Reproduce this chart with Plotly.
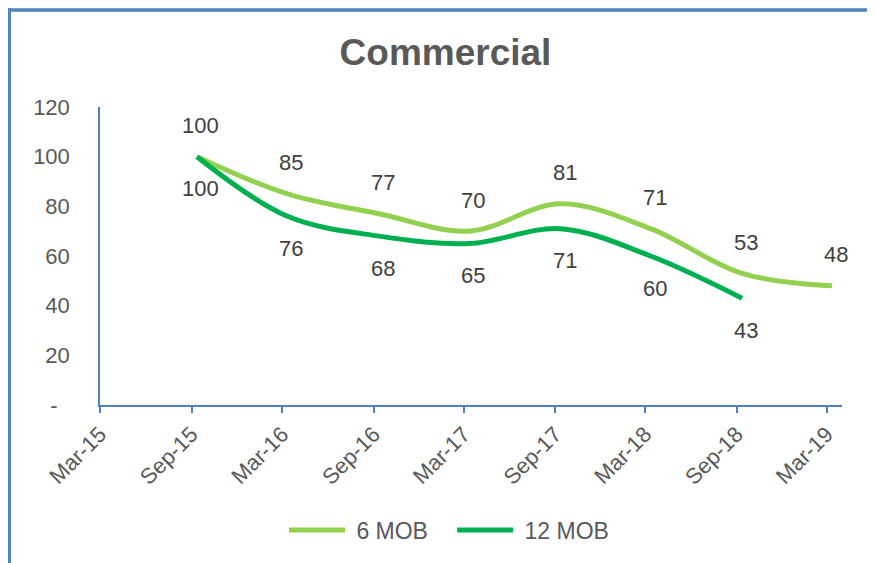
import plotly.graph_objects as go

dates_6 = ["2015-09-12", "2016-03-12", "2016-09-12", "2017-03-12", "2017-09-12", "2018-03-12", "2018-09-12", "2019-03-12"]
mob6 = [100, 85, 77, 70, 81, 71, 53, 48]
dates_12 = ["2015-09-12", "2016-03-12", "2016-09-12", "2017-03-12", "2017-09-12", "2018-03-12", "2018-09-12"]
mob12 = [100, 76, 68, 65, 71, 60, 43]
series_names = ["6 MOB", "12 MOB"]
tick_dates = ["2015-03-01", "2015-09-01", "2016-03-01", "2016-09-01", "2017-03-01", "2017-09-01", "2018-03-01", "2018-09-01", "2019-03-01"]
tick_labels = ["Mar-15", "Sep-15", "Mar-16", "Sep-16", "Mar-17", "Sep-17", "Mar-18", "Sep-18", "Mar-19"]
y_ticks = [0, 20, 40, 60, 80, 100, 120]
y_labels = ["-\u00a0\u00a0", "20", "40", "60", "80", "100", "120"]

C6 = "#92D050"
C12 = "#00B050"
BLUE = "#4F81BD"
FONT = "Liberation Sans, Arial, sans-serif"
NB = "\u00a0"

fig = go.Figure()
fig.add_trace(go.Scatter(x=dates_6, y=mob6, mode="lines", name=NB + series_names[0] + NB * 3,
                         line=dict(color=C6, width=5, shape="spline", smoothing=1.0)))
fig.add_trace(go.Scatter(x=dates_12, y=mob12, mode="lines", name=NB + series_names[1],
                         line=dict(color=C12, width=5, shape="spline", smoothing=1.0)))

annotations = []
for d, v in zip(dates_6, mob6):
    annotations.append(dict(x=d, y=v, text=str(v), showarrow=False, yshift=31, xshift=4,
                            font=dict(family=FONT, size=22, color="#404040")))
for d, v in zip(dates_12, mob12):
    annotations.append(dict(x=d, y=v, text=str(v), showarrow=False, yshift=-32, xshift=4,
                            font=dict(family=FONT, size=22, color="#404040")))

# page body has an 8px offset; figure coordinates = screen - 8
OFF = 8
L, R, T, B = 92, 41, 99, 166
W, H = 875, 563
pw = W - L - R
ph = H - T - B

def sx(px):
    return (px - OFF - L) / pw

def sy(py):
    return (H - B - (py - OFF)) / ph

shapes = [
    dict(type="line", xref="paper", yref="paper",
         x0=sx(7.5), x1=sx(900), y0=sy(10), y1=sy(10),
         line=dict(color=BLUE, width=3.5)),
    dict(type="line", xref="paper", yref="paper",
         x0=sx(9.2), x1=sx(9.2), y0=sy(8.5), y1=sy(600),
         line=dict(color=BLUE, width=3.5)),
]

fig.update_layout(
    width=W, height=H,
    margin=dict(l=L, r=R, t=T, b=B),
    paper_bgcolor="white", plot_bgcolor="white",
    font=dict(family=FONT, size=22, color="#595959"),
    title=dict(text="<b>Commercial</b>", x=0.5, xref="container", xanchor="center",
               y=1 - (52 - OFF) / H, yanchor="middle",
               font=dict(family=FONT, size=37, color="#595959")),
    xaxis=dict(type="date", range=["2015-03-01", "2019-04-01"],
               tickmode="array", tickvals=tick_dates, ticktext=tick_labels,
               tickangle=-45, showgrid=False, zeroline=False,
               showline=True, linecolor=BLUE, linewidth=1.5,
               ticks="outside", ticklen=6, tickcolor=BLUE, tickwidth=1.5,
               tickfont=dict(family=FONT, size=22, color="#595959")),
    yaxis=dict(range=[0, 120], tickmode="array", tickvals=y_ticks, ticktext=y_labels,
               showgrid=False, zeroline=False, showline=True, linecolor=BLUE, linewidth=1.5,
               ticks="", ticklabelstandoff=24,
               tickfont=dict(family=FONT, size=22, color="#595959")),
    legend=dict(orientation="h", x=sx(284), xanchor="left", y=sy(530), yanchor="middle",
                font=dict(family=FONT, size=23, color="#595959"), itemwidth=56, traceorder="normal"),
    annotations=annotations,
    shapes=shapes,
)

fig.write_html("out.html")
